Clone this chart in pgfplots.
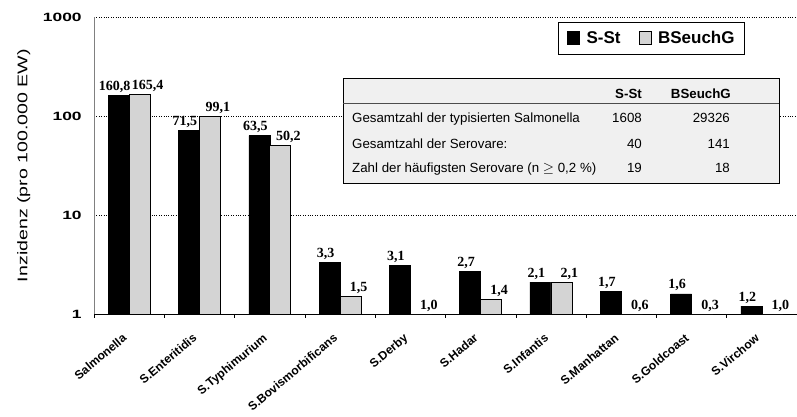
\documentclass[border=0pt]{standalone}
\usepackage{fontspec}
\setmainfont{Liberation Sans}
\newfontfamily\numfont{Liberation Serif}
\usepackage{pgfplots}
\pgfplotsset{compat=1.18}
\usepackage{pgfplotstable}

\pgfplotstableread{
x y lab
0 160.8 {160,8}
1 71.5 {71,5}
2 63.5 {63,5}
3 3.3 {3,3}
4 3.1 {3,1}
5 2.7 {2,7}
6 2.1 {2,1}
7 1.7 {1,7}
8 1.6 {1,6}
9 1.2 {1,2}
}\sst
\pgfplotstableread{
x y lab
0 165.4 {165,4}
1 99.1 {99,1}
2 50.2 {50,2}
3 1.5 {1,5}
4 1.0 {1,0}
5 1.4 {1,4}
6 2.1 {2,1}
7 1.0 {0,6}
8 1.0 {0,3}
9 1.0 {1,0}
}\bseuchg

\begin{document}
\begin{tikzpicture}
\begin{axis}[
  at={(94pt,102pt)}, anchor=south west,
  scale only axis, width=703pt, height=297pt,
  ymode=log, ymin=1, ymax=1000,
  xmin=-0.5, xmax=9.5,
  ybar=0pt, bar width=21pt,
  axis x line*=bottom, axis y line*=left,
  axis line style={line width=0.8pt},
  y axis line style={draw=black!50},
  ytick={1,10,100,1000}, yticklabels={1,10,100,1000},
  yticklabel style={font=\bfseries\fontsize{12}{12}\selectfont, xscale=1.45, xshift=-5pt},
  /pgf/number format/assume math mode=true,
  ymajorgrids, major grid style={dotted, black, line width=0.8pt},
  yminorticks=false,
  xtick={0,...,9},
  xticklabels={Salmonella,S.Enteritidis,S.Typhimurium,S.Bovismorbificans,S.Derby,S.Hadar,S.Infantis,S.Manhattan,S.Goldcoast,S.Virchow},
  xticklabel style={xshift=-7pt, yshift=-14pt, rotate=40, anchor=north east, font=\bfseries\fontsize{12}{12}\selectfont},
  minor xtick={-0.5,0.5,...,9.5},
  major tick length=0pt, minor tick length=4pt,
  tick align=outside,
  tick style={black, line width=0.6pt},
  ylabel={Inzidenz (pro 100.000 EW)},
  ylabel style={at={(axis description cs:-0.1,0.5)}, anchor=center, font=\fontsize{14}{14}\selectfont, xscale=1.4},
  legend style={at={(0.926,0.983)}, anchor=north east, legend columns=2, draw=black, line width=0.8pt,
    font=\bfseries\fontsize{17}{17}\selectfont, inner xsep=8pt, inner ysep=7pt,
    /tikz/every even column/.append style={column sep=16pt}},
  legend image code/.code={\draw[#1, line width=0.5pt] (0pt,-6pt) rectangle (12pt,7pt); \path (17pt,0pt);},
  nodes near coords, point meta=explicit symbolic,
  clip=false,
]
\addplot[fill=black, draw=black,
  every node near coord/.append style={font=\numfont\bfseries\fontsize{14}{14}\selectfont, xshift=-4pt, inner sep=2.5pt}]
  table[x=x, y=y, meta=lab]{\sst};
\addplot[fill=black!17, draw=black, line width=0.6pt,
  every node near coord/.append style={font=\numfont\bfseries\fontsize{14}{14}\selectfont, xshift=8pt, inner sep=2.5pt}]
  table[x=x, y=y, meta=lab]{\bseuchg};
\legend{S-St, BSeuchG}
\end{axis}
% info table
\draw[fill=black!6, line width=0.7pt] (343pt,233pt) rectangle (779pt,338pt);
\draw[line width=0.6pt, black!70] (343pt,313pt) -- (779pt,313pt);
\begin{scope}[every node/.style={inner sep=0pt, font=\fontsize{13.3}{14}\selectfont}]
\node[anchor=base east, font=\bfseries\fontsize{13.3}{14}\selectfont] at (642pt,318pt) {S-St};
\node[anchor=base east, font=\bfseries\fontsize{13.3}{14}\selectfont] at (731pt,318pt) {BSeuchG};
\node[anchor=base west] at (352pt,294pt) {Gesamtzahl der typisierten Salmonella};
\node[anchor=base east] at (642pt,294pt) {1608};
\node[anchor=base east] at (730pt,294pt) {29326};
\node[anchor=base west] at (352pt,268pt) {Gesamtzahl der Serovare:};
\node[anchor=base east] at (642pt,268pt) {40};
\node[anchor=base east] at (730pt,268pt) {141};
\node[anchor=base west] at (352pt,244pt) {Zahl der häufigsten Serovare (n $\geq$ 0,2 \%)};
\node[anchor=base east] at (642pt,244pt) {19};
\node[anchor=base east] at (730pt,244pt) {18};
\end{scope}
\pgfresetboundingbox
\path[use as bounding box] (0pt,0pt) rectangle (797pt,416pt);
\end{tikzpicture}
\end{document}
